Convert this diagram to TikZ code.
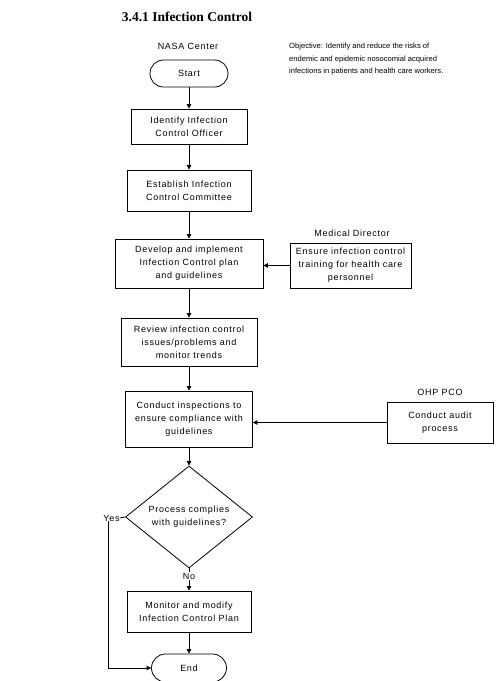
\documentclass[tikz,border=0pt]{standalone}
\usepackage{fontspec}
\setmainfont{Liberation Sans}
\newfontfamily\boxfont[LetterSpace=8]{Liberation Sans}
\newfontfamily\titlefont{Liberation Serif}
\usetikzlibrary{arrows.meta,shapes.geometric,shapes.misc}
\begin{document}
\begin{tikzpicture}[x=1pt,y=-1pt,
  every node/.style={inner sep=0pt},
  txt/.style={font=\boxfont\fontsize{9}{13}\selectfont, align=center},
  proc/.style={txt, draw, line width=0.8pt, rectangle},
  term/.style={txt, draw, line width=0.8pt, rounded rectangle},
  dec/.style={txt, draw, line width=0.8pt, diamond},
  lbl/.style={txt},
  arr/.style={line width=0.8pt, -{Triangle[length=4.5pt,width=4.5pt]}},
  ln/.style={line width=0.8pt}]
\useasboundingbox (0,0) rectangle (504,681);
\fill[white] (0,0) rectangle (504,681);

\node (title) at (187,17) {\titlefont\bfseries\fontsize{13.5}{15}\selectfont 3.4.1 Infection Control};
\node[lbl] (nasa) at (188,46) {NASA Center};
\node[anchor=north west, align=left, font=\fontsize{7.6}{12.5}\selectfont] (obj) at (289,43)
  {Objective: Identify and reduce the risks of\\endemic and epidemic nosocomial acquired\\infections in patients and health care workers.};

\node[term, minimum width=78pt, minimum height=27pt] (start) at (189,73.5) {Start};
\node[proc, minimum width=116pt, minimum height=35pt] (ident) at (189,126.5) {Identify Infection\\Control Officer};
\node[proc, minimum width=124pt, minimum height=41pt] (estab) at (189,190.5) {Establish Infection\\Control Committee};
\node[proc, minimum width=148pt, minimum height=49pt] (dev) at (189,263.5) {Develop and implement\\Infection Control plan\\and guidelines};
\node[lbl] (mdlbl) at (352,233) {Medical Director};
\node[proc, minimum width=121pt, minimum height=45pt] (md) at (350.5,265.5) {Ensure infection control\\training for health care\\personnel};
\node[proc, minimum width=136pt, minimum height=48pt] (rev) at (189,342) {Review infection control\\issues/problems and\\monitor trends};
\node[proc, minimum width=127pt, minimum height=56pt] (insp) at (189,419) {Conduct inspections to\\ensure compliance with\\guidelines};
\node[lbl] (ohplbl) at (440,392) {OHP PCO};
\node[proc, minimum width=106pt, minimum height=41pt] (audit) at (440,422.5) {Conduct audit\\process};
\node[dec, minimum width=127pt, minimum height=97pt] (dia) at (189,517) {Process complies\\with guidelines?};
\node[lbl] (yes) at (111.5,518) {Yes};
\node[lbl, inner sep=1pt] (no) at (189,576) {No};
\node[proc, minimum width=124pt, minimum height=41pt] (mon) at (189,611.5) {Monitor and modify\\Infection Control Plan};
\node[term, minimum width=75pt, minimum height=28pt] (end) at (189,668) {End};

\draw[arr] (start.south) -- (ident.north);
\draw[arr] (ident.south) -- (estab.north);
\draw[arr] (estab.south) -- (dev.north);
\draw[arr] (md.west) -- (md.west -| dev.east);
\draw[arr] (dev.south) -- (rev.north);
\draw[arr] (rev.south) -- (insp.north);
\draw[arr] (audit.west) -- (audit.west -| insp.east);
\draw[arr] (insp.south) -- (dia.north);
\draw[ln] (yes.east) -- (dia.west);
\draw[arr] ([xshift=-3.5pt]yes.south) |- (end.west);
\draw[ln] (dia.south) -- (no.north);
\draw[arr] (no.south) -- (mon.north);
\draw[arr] (mon.south) -- (end.north);
\end{tikzpicture}
\end{document}
